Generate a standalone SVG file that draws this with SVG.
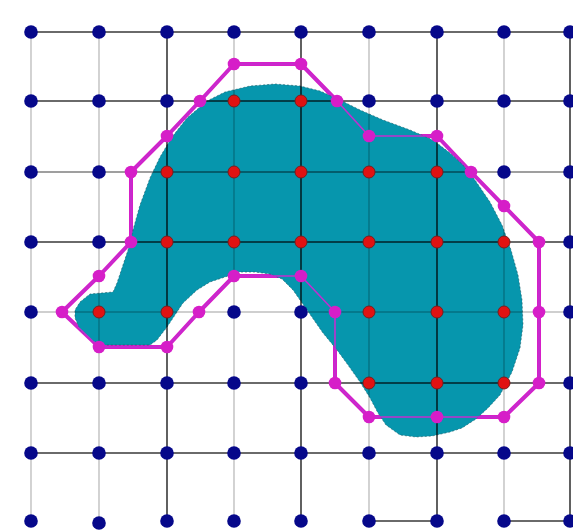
<svg xmlns="http://www.w3.org/2000/svg" width="573" height="532" viewBox="0 0 573 532">
<style>
.dk{stroke:#000;stroke-opacity:.78;stroke-width:1.6}
.md{stroke:#000;stroke-opacity:.5;stroke-width:1.4}
.lt{stroke:#000;stroke-opacity:.25;stroke-width:1.4}
.b{fill:#06088a}
.r{fill:#e01212;stroke:#7a1d1d;stroke-width:1}
.m{fill:#d61ec8}
</style>
<rect width="573" height="532" fill="#fff"/>
<g id="boundary-thick">
<polygon points="234,64 301,64 337,101 369,136 437,136 471,172 504,206 539,242 539,312 539,383 504,417 437,417 369,417 335,383 335,312 301,276 234,276 199,312 167,347 99,347 62,312 99,276 131,242 131,172 167,136 200,101" fill="none" stroke="#d61ec8" stroke-width="4" stroke-linejoin="round"/>
</g>
<g id="region">
<path d="M113,292 L117,283 L123,265 L128,250 L133,230 L140,205 L150,178 L160,157 L172,137 L187,118 L207,101 L225,92 L250,86 L275,84 L300,86 L320,91 L340,100 L360,110 L383,120 L410,130 L433,140 L450,153 L463,165 L475,180 L490,202 L502,225 L511,250 L518,275 L522,300 L523,325 L520,348 L512,372 L500,395 L488,408 L476,419 L462,428 L450,432 L432,436 L416,437 L400,435 L386,425 L378,413 L370,398 L360,382 L348,365 L337,350 L323,333 L307,310 L293,290 L282,279 L270,274 L255,272 L240,272 L225,277 L210,282 L197,290 L183,303 L175,315 L167,327 L157,340 L150,345 L103,345 L93,341 L80,330 L75,318 L75,310 L80,302 L90,294 Z" fill="#0696ad" stroke="#1b5964" stroke-width="1" stroke-dasharray="2 2" stroke-opacity=".6"/>
</g>
<g id="connectors">
<line class="dk" x1="31" y1="32" x2="573" y2="32"/>
<line class="dk" x1="31" y1="101" x2="573" y2="101"/>
<line class="md" x1="31" y1="172" x2="573" y2="172"/>
<line class="dk" x1="31" y1="242" x2="573" y2="242"/>
<line class="lt" x1="31" y1="312" x2="573" y2="312"/>
<line class="dk" x1="31" y1="383" x2="573" y2="383"/>
<line class="dk" x1="31" y1="453" x2="573" y2="453"/>
<line class="dk" x1="369" y1="521" x2="437" y2="521"/>
<line class="dk" x1="504" y1="521" x2="573" y2="521"/>
<line class="lt" x1="31" y1="32" x2="31" y2="521"/>
<line class="lt" x1="99" y1="32" x2="99" y2="521"/>
<line class="dk" x1="167" y1="32" x2="167" y2="521"/>
<line class="lt" x1="234" y1="32" x2="234" y2="521"/>
<line class="dk" x1="301" y1="32" x2="301" y2="521"/>
<line class="lt" x1="369" y1="32" x2="369" y2="521"/>
<line class="dk" x1="437" y1="32" x2="437" y2="521"/>
<line class="lt" x1="504" y1="32" x2="504" y2="521"/>
<line class="dk" x1="570" y1="32" x2="570" y2="521"/>
<polygon points="234,64 301,64 337,101 369,136 437,136 471,172 504,206 539,242 539,312 539,383 504,417 437,417 369,417 335,383 335,312 301,276 234,276 199,312 167,347 99,347 62,312 99,276 131,242 131,172 167,136 200,101" fill="none" stroke="#c22ed0" stroke-width="1.6" stroke-linejoin="round"/>
</g>
<g id="outside-points">
<circle class="b" cx="31" cy="32" r="6.8"/><circle class="b" cx="99" cy="32" r="6.8"/><circle class="b" cx="167" cy="32" r="6.8"/><circle class="b" cx="234" cy="32" r="6.8"/><circle class="b" cx="301" cy="32" r="6.8"/><circle class="b" cx="369" cy="32" r="6.8"/><circle class="b" cx="437" cy="32" r="6.8"/><circle class="b" cx="504" cy="32" r="6.8"/><circle class="b" cx="570" cy="32" r="6.8"/>
<circle class="b" cx="31" cy="101" r="6.8"/><circle class="b" cx="99" cy="101" r="6.8"/><circle class="b" cx="167" cy="101" r="6.8"/><circle class="b" cx="369" cy="101" r="6.8"/><circle class="b" cx="437" cy="101" r="6.8"/><circle class="b" cx="504" cy="101" r="6.8"/><circle class="b" cx="570" cy="101" r="6.8"/>
<circle class="b" cx="31" cy="172" r="6.8"/><circle class="b" cx="99" cy="172" r="6.8"/><circle class="b" cx="504" cy="172" r="6.8"/><circle class="b" cx="570" cy="172" r="6.8"/>
<circle class="b" cx="31" cy="242" r="6.8"/><circle class="b" cx="99" cy="242" r="6.8"/><circle class="b" cx="570" cy="242" r="6.8"/>
<circle class="b" cx="31" cy="312" r="6.8"/><circle class="b" cx="234" cy="312" r="6.8"/><circle class="b" cx="301" cy="312" r="6.8"/><circle class="b" cx="570" cy="312" r="6.8"/>
<circle class="b" cx="31" cy="383" r="6.8"/><circle class="b" cx="99" cy="383" r="6.8"/><circle class="b" cx="167" cy="383" r="6.8"/><circle class="b" cx="234" cy="383" r="6.8"/><circle class="b" cx="301" cy="383" r="6.8"/><circle class="b" cx="570" cy="383" r="6.8"/>
<circle class="b" cx="31" cy="453" r="6.8"/><circle class="b" cx="99" cy="453" r="6.8"/><circle class="b" cx="167" cy="453" r="6.8"/><circle class="b" cx="234" cy="453" r="6.8"/><circle class="b" cx="301" cy="453" r="6.8"/><circle class="b" cx="369" cy="453" r="6.8"/><circle class="b" cx="437" cy="453" r="6.8"/><circle class="b" cx="504" cy="453" r="6.8"/><circle class="b" cx="570" cy="453" r="6.8"/>
<circle class="b" cx="31" cy="521" r="6.8"/><circle class="b" cx="99" cy="523" r="6.8"/><circle class="b" cx="167" cy="521" r="6.8"/><circle class="b" cx="234" cy="521" r="6.8"/><circle class="b" cx="301" cy="521" r="6.8"/><circle class="b" cx="369" cy="521" r="6.8"/><circle class="b" cx="437" cy="521" r="6.8"/><circle class="b" cx="504" cy="521" r="6.8"/><circle class="b" cx="570" cy="521" r="6.8"/>
</g>
<g id="inside-points">
<circle class="r" cx="234" cy="101" r="6"/><circle class="r" cx="301" cy="101" r="6"/>
<circle class="r" cx="167" cy="172" r="6"/><circle class="r" cx="234" cy="172" r="6"/><circle class="r" cx="301" cy="172" r="6"/><circle class="r" cx="369" cy="172" r="6"/><circle class="r" cx="437" cy="172" r="6"/>
<circle class="r" cx="167" cy="242" r="6"/><circle class="r" cx="234" cy="242" r="6"/><circle class="r" cx="301" cy="242" r="6"/><circle class="r" cx="369" cy="242" r="6"/><circle class="r" cx="437" cy="242" r="6"/><circle class="r" cx="504" cy="242" r="6"/>
<circle class="r" cx="99" cy="312" r="6"/><circle class="r" cx="167" cy="312" r="6"/><circle class="r" cx="369" cy="312" r="6"/><circle class="r" cx="437" cy="312" r="6"/><circle class="r" cx="504" cy="312" r="6"/>
<circle class="r" cx="369" cy="383" r="6"/><circle class="r" cx="437" cy="383" r="6"/><circle class="r" cx="504" cy="383" r="6"/>
</g>
<g id="boundary-points">
<circle class="m" cx="234" cy="64" r="6.3"/><circle class="m" cx="301" cy="64" r="6.3"/><circle class="m" cx="337" cy="101" r="6.3"/><circle class="m" cx="369" cy="136" r="6.3"/><circle class="m" cx="437" cy="136" r="6.3"/><circle class="m" cx="471" cy="172" r="6.3"/><circle class="m" cx="504" cy="206" r="6.3"/><circle class="m" cx="539" cy="242" r="6.3"/><circle class="m" cx="539" cy="312" r="6.3"/><circle class="m" cx="539" cy="383" r="6.3"/><circle class="m" cx="504" cy="417" r="6.3"/><circle class="m" cx="437" cy="417" r="6.3"/><circle class="m" cx="369" cy="417" r="6.3"/><circle class="m" cx="335" cy="383" r="6.3"/><circle class="m" cx="335" cy="312" r="6.3"/><circle class="m" cx="301" cy="276" r="6.3"/><circle class="m" cx="234" cy="276" r="6.3"/><circle class="m" cx="199" cy="312" r="6.3"/><circle class="m" cx="167" cy="347" r="6.3"/><circle class="m" cx="99" cy="347" r="6.3"/><circle class="m" cx="62" cy="312" r="6.3"/><circle class="m" cx="99" cy="276" r="6.3"/><circle class="m" cx="131" cy="242" r="6.3"/><circle class="m" cx="131" cy="172" r="6.3"/><circle class="m" cx="167" cy="136" r="6.3"/><circle class="m" cx="200" cy="101" r="6.3"/>
</g>
</svg>
